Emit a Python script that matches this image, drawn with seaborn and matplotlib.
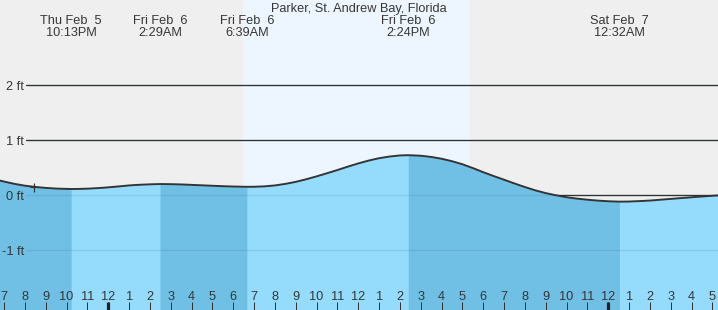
import matplotlib
matplotlib.use("Agg")
import matplotlib.pyplot as plt
import seaborn as sns
import numpy as np
import pandas as pd
from matplotlib.ticker import FixedLocator

# ---------------- data ----------------
title = "Parker, St. Andrew Bay, Florida"

# hours relative to Fri Feb 6 00:00, tide height in feet
hours = [-5.5, -5, -4.5, -4, -3.5, -3, -2.5, -2, -1.783, -1.5, -1, -0.5,
         0, 0.5, 1, 1.5, 2, 2.483, 3, 3.5, 4, 4.5, 5, 5.5, 6, 6.65,
         7, 7.5, 8, 8.5, 9, 9.5, 10, 10.5, 11, 11.5, 12, 12.5, 13, 13.5, 14, 14.4,
         15, 15.5, 16, 16.5, 17, 17.5, 18, 18.5, 19, 19.5, 20, 20.5, 21, 21.5,
         22, 22.5, 23, 23.5, 24, 24.533, 25, 25.5, 26, 26.5, 27, 27.5, 28, 28.5,
         29, 29.5]
height_ft = [0.295, 0.25, 0.208, 0.175, 0.152, 0.135, 0.123, 0.117, 0.115, 0.116, 0.121, 0.131,
             0.145, 0.162, 0.18, 0.192, 0.2, 0.205, 0.203, 0.198, 0.19, 0.182, 0.174, 0.166, 0.16, 0.155,
             0.156, 0.163, 0.18, 0.208, 0.245, 0.292, 0.345, 0.402, 0.46, 0.522, 0.58, 0.632, 0.675, 0.705, 0.725, 0.73,
             0.72, 0.698, 0.665, 0.62, 0.565, 0.495, 0.42, 0.35, 0.283, 0.215, 0.15, 0.09, 0.04, 0.0,
             -0.035, -0.06, -0.08, -0.096, -0.108, -0.115, -0.113, -0.105, -0.095, -0.08, -0.065, -0.05, -0.035, -0.021,
             -0.008, 0.003]

extreme_hours = [-1.783, 2.483, 6.65, 14.4, 24.533]
extreme_day = ["Thu Feb  5", "Fri Feb  6", "Fri Feb  6", "Fri Feb  6", "Sat Feb  7"]
extreme_time = ["10:13PM", "2:29AM", "6:39AM", "2:24PM", "12:32AM"]

sunrise_h, sunset_h = 6.47, 17.37

tick_hours = list(range(-5, 30))
tick_labels = ["7", "8", "9", "10", "11", "12", "1", "2", "3", "4", "5", "6",
               "7", "8", "9", "10", "11", "12", "1", "2", "3", "4", "5", "6",
               "7", "8", "9", "10", "11", "12", "1", "2", "3", "4", "5"]
midnight_hours = [0, 24]

ytick_ft = [2, 1, 0, -1]
ytick_labels = ["2 ft", "1 ft", "0 ft", "-1 ft"]

marker_hour, marker_ft = -3.57, 0.154

# ---------------- style ----------------
sns.set_style("white")
plt.rcParams["font.family"] = ["Liberation Sans", "DejaVu Sans"]

TXT = "#363636"
NIGHT = "#efefef"
DAY = "#edf6ff"
DARK_WATER = "#70bfe4"
LIGHT_WATER = "#95dbfc"
FS = 12.7

fig = plt.figure(figsize=(718 / 72, 310 / 72), dpi=72, facecolor=NIGHT)
ax = fig.add_axes([0, 0, 1, 1])
ax.set_facecolor(NIGHT)

x_lo, x_hi = -5.198, 29.266
y_lo, y_hi = -2.085, 3.551
ax.set_xlim(x_lo, x_hi)
ax.set_ylim(y_lo, y_hi)

# daylight
ax.axvspan(sunrise_h, sunset_h, color=DAY, lw=0, zorder=0)

# gridlines (dark above water, faint through water)
for yv in ytick_ft:
    ax.axhline(yv, xmin=26 / 718, xmax=1, color="#2e2e2e", lw=1.3, zorder=1)
    ax.axhline(yv, xmin=26 / 718, xmax=1, color="#1a4a66", lw=1.3, alpha=0.12, zorder=3)

# water fill: full water body in the falling-tide shade, rising segments on top
t = np.array(hours)
h = np.array(height_ft)
ax.fill_between(t, h, y_lo - 1, color=DARK_WATER, lw=0, zorder=1.9)
bounds = [hours[0]] + extreme_hours + [hours[-1]]
for a, b in zip(bounds[:-1], bounds[1:]):
    m = (t >= a - 1e-9) & (t <= b + 1e-9)
    seg_t, seg_h = t[m], h[m]
    if seg_h[-1] > seg_h[0]:
        ax.fill_between(seg_t, seg_h, y_lo - 1, color=LIGHT_WATER,
                        lw=0, zorder=2, antialiased=False)

# tide curve
df = pd.DataFrame({"hour": hours, "ft": height_ft})
sns.lineplot(data=df, x="hour", y="ft", ax=ax, color="#333333", lw=1.9, zorder=4)
ax.plot([marker_hour], [marker_ft], marker="+", ms=9, mew=1.2, color="#333333", zorder=5)

# axes cosmetics
for s in ax.spines.values():
    s.set_visible(False)
ax.set_xlabel("")
ax.set_ylabel("")
ax.set_axisbelow(False)

ax.xaxis.remove_overlapping_locs = False
ax.set_xticks(tick_hours)
ax.set_xticklabels(tick_labels)
ax.xaxis.set_minor_locator(FixedLocator(midnight_hours))
ax.tick_params(axis="x", which="major", direction="in", length=8, width=1,
               color="#333333", pad=-19, labelsize=FS, labelcolor=TXT, bottom=True)
ax.tick_params(axis="x", which="minor", direction="in", length=8, width=3.2,
               color="#222222", bottom=True)

ax.set_yticks(ytick_ft)
ax.set_yticklabels(ytick_labels)
ax.tick_params(axis="y", which="both", length=0, pad=-24, labelsize=FS, labelcolor=TXT, left=True)
for lbl in ax.get_yticklabels():
    lbl.set_verticalalignment("center_baseline")

# extreme labels at top
tr = ax.get_xaxis_transform()
for th, d, tm in zip(extreme_hours, extreme_day, extreme_time):
    ax.text(th, 1 - 24 / 310, d, transform=tr, ha="center", va="baseline",
            fontsize=FS, color=TXT, zorder=6)
    ax.text(th, 1 - 36 / 310, tm, transform=tr, ha="center", va="baseline",
            fontsize=FS, color=TXT, zorder=6)

fig.text(0.5, 1 - 11.7 / 310, title, ha="center", va="baseline", fontsize=FS, color=TXT)

fig.savefig("out.png", dpi=72, facecolor=NIGHT)
